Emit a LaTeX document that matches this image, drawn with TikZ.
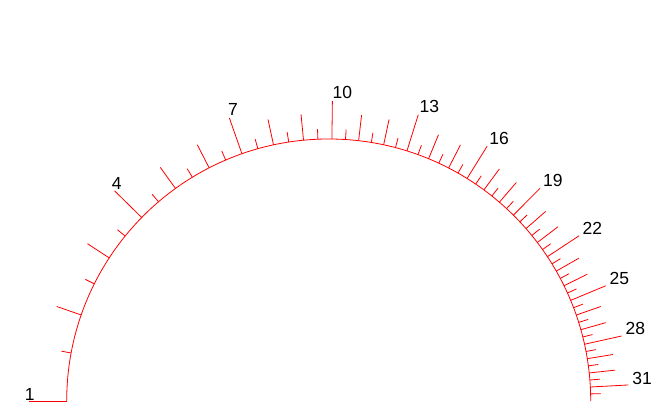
\documentclass[tikz,border=0pt]{standalone}
\usepackage{fontspec}
\setmainfont{Liberation Sans}
\begin{document}
\begin{tikzpicture}[x=1pt,y=1pt,
  scaleline/.style={draw=red, line width=0.8pt},
  lbl/.style={anchor=south west, inner sep=1pt, text=black,
              font=\fontsize{17.5}{20}\selectfont}]
\useasboundingbox (0,0) rectangle (655,415);
\coordinate (C) at (328.7,14);
% arc
\draw[scaleline] ([shift={(180:262)}]C) arc[start angle=180, end angle=0, radius=262];
% ticks every 0.5 from 1 to 31.5 ; angle = 240 - 60 * v^0.4
\foreach \i in {2,...,63}{
  \pgfmathsetmacro{\v}{\i/2}
  \pgfmathsetmacro{\ang}{240-60*pow(\v,0.4)}
  \pgfmathsetmacro{\len}{mod(\i,6)==2 ? 38 : (mod(\i,2)==0 ? 26 : 10)}
  \pgfmathsetmacro{\rr}{262+\len}
  \draw[scaleline] ([shift={(\ang:262)}]C) -- ([shift={(\ang:\rr)}]C);
}
% labels
\foreach \n in {1,4,...,31}{
  \pgfmathsetmacro{\ang}{240-60*pow(\n,0.4)}
  \pgfmathsetmacro{\dx}{4*cos(\ang)-1}
  \pgfmathsetmacro{\dy}{1.5*sin(\ang)-0.5}
  \node[lbl, xshift=\dx pt, yshift=\dy pt] (l\n) at ([shift={(\ang:300)}]C) {\n};
}
\end{tikzpicture}
\end{document}
